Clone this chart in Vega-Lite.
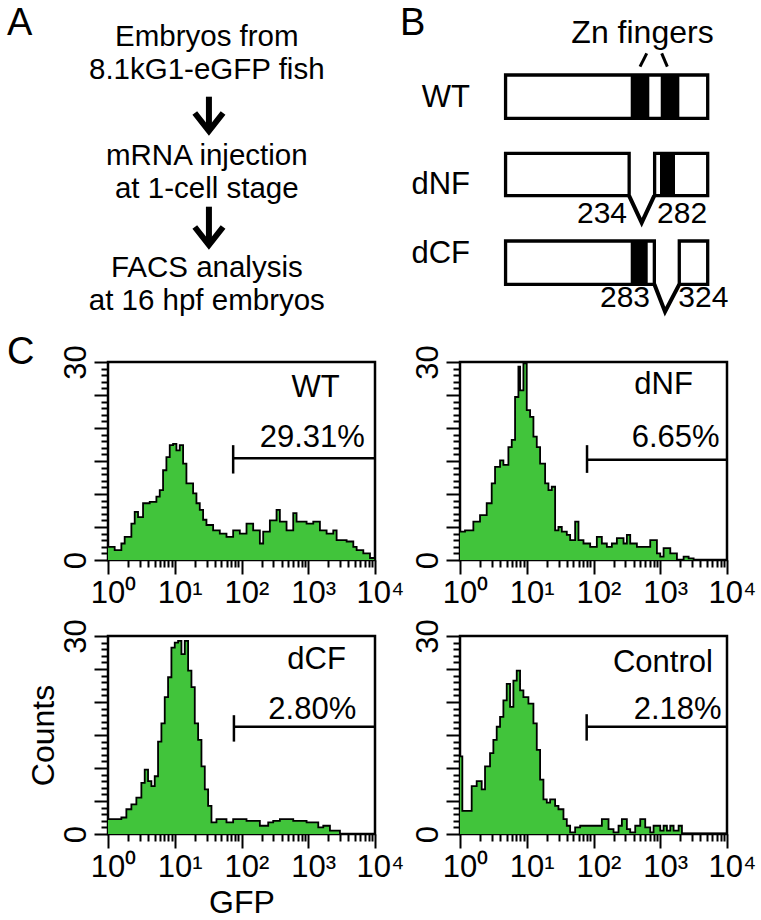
{
  "$schema": "https://vega.github.io/schema/vega-lite/v6.json",
  "padding": {"left": 7, "top": 0, "right": 0, "bottom": 0},
  "background": "white",
  "bounds": "flush",
  "columns": 2,
  "spacing": {"row": 76, "column": 85},
  "datasets": {
    "aletters": [{"t": "A", "x": -7.48, "y": 3.5}, {"t": "C", "x": -7.48, "y": 36.4}],
    "atext": [
      {"t": "Embryos from", "x": 0, "y": 4.6},
      {"t": "8.1kG1-eGFP fish", "x": 0, "y": 7.9},
      {"t": "mRNA injection", "x": 0, "y": 16.45},
      {"t": "at 1-cell stage", "x": 0, "y": 19.75},
      {"t": "FACS analysis", "x": 0, "y": 27.65},
      {"t": "at 16 hpf embryos", "x": 0, "y": 30.95}
    ],
    "ashaft": [{"x": 0.08, "y": 9.67, "y2": 13.0}, {"x": 0.08, "y": 20.67, "y2": 24.4}],
    "ahead": [
      {"id": 1, "x": -0.45, "y": 11.3}, {"id": 1, "x": 0.08, "y": 13.1}, {"id": 1, "x": 0.61, "y": 11.3},
      {"id": 2, "x": -0.45, "y": 22.7}, {"id": 2, "x": 0.08, "y": 24.5}, {"id": 2, "x": 0.61, "y": 22.7}
    ],
    "bletter": [{"t": "B", "x": -194.9, "y": 3.5}],
    "btitle": [{"t": "Zn fingers", "x": 257.4, "y": 4.25}],
    "brows": [{"t": "WT", "x": -64.3, "y": 10.67}, {"t": "dNF", "x": -64.3, "y": 19.43}, {"t": "dCF", "x": -64.3, "y": 26.33}],
    "bnumr": [{"t": "234", "x": 228.5, "y": 22.3}, {"t": "283", "x": 271.4, "y": 30.67}],
    "bnuml": [{"t": "282", "x": 284.5, "y": 22.3}, {"t": "324", "x": 324.2, "y": 30.67}],
    "bboxes": [
      {"x": 2, "x2": 379, "y": 7.5, "y2": 11.83},
      {"x": 2, "x2": 232.5, "y": 15.33, "y2": 19.57},
      {"x": 280, "x2": 379, "y": 15.33, "y2": 19.57},
      {"x": 2, "x2": 279.5, "y": 24.1, "y2": 28.43},
      {"x": 326, "x2": 379, "y": 24.1, "y2": 28.43}
    ],
    "bbands": [
      {"x": 235.4, "x2": 270.1, "y": 7.5, "y2": 11.83},
      {"x": 291.4, "x2": 326.1, "y": 7.5, "y2": 11.83},
      {"x": 290, "x2": 318, "y": 15.33, "y2": 19.57},
      {"x": 235.4, "x2": 267.1, "y": 24.1, "y2": 28.43}
    ],
    "bzn": [{"x": 252.8, "y": 6.67, "x2": 265.3, "y2": 5.33}, {"x": 293.2, "y": 5.33, "x2": 303.7, "y2": 6.67}],
    "bnotch": [
      {"id": "dNF", "x": 232.3, "y": 19.57}, {"id": "dNF", "x": 255.9, "y": 22.27}, {"id": "dNF", "x": 279.4, "y": 19.57},
      {"id": "dCF", "x": 279.5, "y": 28.43}, {"id": "dCF", "x": 299.4, "y": 31.17}, {"id": "dCF", "x": 326, "y": 28.43}
    ],
    "hist": [
      {"s":"WT","g":1,"c":2.0},{"s":"WT","g":1.259,"c":1.5},{"s":"WT","g":1.585,"c":2.5},{"s":"WT","g":1.778,"c":3.5},{"s":"WT","g":2.239,"c":5.5},{"s":"WT","g":2.512,"c":7.3},{"s":"WT","g":2.818,"c":6.5},{"s":"WT","g":3.35,"c":8.6},{"s":"WT","g":4.217,"c":8.8},{"s":"WT","g":5.309,"c":9.6},{"s":"WT","g":5.957,"c":10.6},{"s":"WT","g":6.683,"c":13.6},{"s":"WT","g":7.499,"c":15.6},{"s":"WT","g":8.414,"c":17.4},{"s":"WT","g":9.441,"c":17.6},{"s":"WT","g":10.59,"c":16.6},{"s":"WT","g":11.89,"c":17.4},{"s":"WT","g":13.34,"c":14.6},{"s":"WT","g":14.96,"c":11.6},{"s":"WT","g":18.84,"c":10.1},{"s":"WT","g":21.13,"c":8.6},{"s":"WT","g":23.71,"c":7.6},{"s":"WT","g":26.61,"c":6.1},{"s":"WT","g":29.85,"c":5.3},{"s":"WT","g":37.58,"c":4.5},{"s":"WT","g":47.32,"c":4.0},{"s":"WT","g":59.57,"c":3.5},{"s":"WT","g":74.99,"c":4.5},{"s":"WT","g":94.41,"c":4.0},{"s":"WT","g":118.9,"c":5.5},{"s":"WT","g":149.6,"c":4.5},{"s":"WT","g":188.4,"c":2.5},{"s":"WT","g":211.3,"c":4.3},{"s":"WT","g":266.1,"c":6.0},{"s":"WT","g":335.0,"c":7.6},{"s":"WT","g":375.8,"c":5.8},{"s":"WT","g":473.2,"c":4.5},{"s":"WT","g":595.7,"c":7.1},{"s":"WT","g":668.3,"c":5.8},{"s":"WT","g":944.1,"c":5.5},{"s":"WT","g":1189,"c":5.8},{"s":"WT","g":1496,"c":4.5},{"s":"WT","g":1884,"c":4.0},{"s":"WT","g":2371,"c":4.5},{"s":"WT","g":2661,"c":3.0},{"s":"WT","g":3758,"c":2.8},{"s":"WT","g":4732,"c":2.0},{"s":"WT","g":5309,"c":1.5},{"s":"WT","g":6683,"c":1.0},{"s":"WT","g":8414,"c":0.3},{"s":"WT","g":10000,"c":0},
      {"s":"dNF","g":1,"c":4.3},{"s":"dNF","g":1.189,"c":4.5},{"s":"dNF","g":1.585,"c":5.8},{"s":"dNF","g":1.995,"c":6.8},{"s":"dNF","g":2.512,"c":8.6},{"s":"dNF","g":2.985,"c":11.6},{"s":"dNF","g":3.35,"c":14.1},{"s":"dNF","g":3.981,"c":15.1},{"s":"dNF","g":4.467,"c":14.4},{"s":"dNF","g":5.309,"c":17.1},{"s":"dNF","g":5.957,"c":18.2},{"s":"dNF","g":6.683,"c":24.7},{"s":"dNF","g":7.499,"c":29.3},{"s":"dNF","g":7.943,"c":25.7},{"s":"dNF","g":8.913,"c":29.8},{"s":"dNF","g":10,"c":22.7},{"s":"dNF","g":11.22,"c":21.7},{"s":"dNF","g":12.59,"c":18.7},{"s":"dNF","g":14.13,"c":17.1},{"s":"dNF","g":15.85,"c":14.6},{"s":"dNF","g":18.84,"c":11.6},{"s":"dNF","g":21.13,"c":10.6},{"s":"dNF","g":23.71,"c":11.1},{"s":"dNF","g":26.61,"c":4.5},{"s":"dNF","g":29.85,"c":5.0},{"s":"dNF","g":33.5,"c":4.3},{"s":"dNF","g":39.81,"c":3.8},{"s":"dNF","g":44.67,"c":3.0},{"s":"dNF","g":53.09,"c":5.8},{"s":"dNF","g":59.57,"c":3.0},{"s":"dNF","g":70.79,"c":2.5},{"s":"dNF","g":89.13,"c":2.0},{"s":"dNF","g":112.2,"c":3.5},{"s":"dNF","g":133.4,"c":2.5},{"s":"dNF","g":158.5,"c":2.0},{"s":"dNF","g":188.4,"c":2.5},{"s":"dNF","g":223.9,"c":3.3},{"s":"dNF","g":281.8,"c":2.5},{"s":"dNF","g":316.2,"c":3.8},{"s":"dNF","g":354.8,"c":2.5},{"s":"dNF","g":446.7,"c":2.0},{"s":"dNF","g":707.9,"c":3.0},{"s":"dNF","g":891.3,"c":1.0},{"s":"dNF","g":1000,"c":0.5},{"s":"dNF","g":1122,"c":1.8},{"s":"dNF","g":1413,"c":1.0},{"s":"dNF","g":1778,"c":0},{"s":"dNF","g":2239,"c":0.5},{"s":"dNF","g":2661,"c":0.25},{"s":"dNF","g":3162,"c":0},{"s":"dNF","g":10000,"c":0},
      {"s":"dCF","g":1,"c":2.25},{"s":"dCF","g":1.585,"c":2.5},{"s":"dCF","g":1.884,"c":3.75},{"s":"dCF","g":2.239,"c":4.5},{"s":"dCF","g":2.661,"c":5.5},{"s":"dCF","g":3.162,"c":7.75},{"s":"dCF","g":3.548,"c":9.75},{"s":"dCF","g":3.981,"c":8},{"s":"dCF","g":4.467,"c":7.25},{"s":"dCF","g":5.012,"c":8.75},{"s":"dCF","g":5.623,"c":14},{"s":"dCF","g":6.31,"c":16.75},{"s":"dCF","g":7.079,"c":20.75},{"s":"dCF","g":7.943,"c":23.75},{"s":"dCF","g":8.913,"c":28.25},{"s":"dCF","g":10,"c":29},{"s":"dCF","g":11.22,"c":29.25},{"s":"dCF","g":12.59,"c":27.25},{"s":"dCF","g":14.13,"c":29.25},{"s":"dCF","g":15.85,"c":24.75},{"s":"dCF","g":17.78,"c":22.25},{"s":"dCF","g":19.95,"c":16.75},{"s":"dCF","g":22.39,"c":14.25},{"s":"dCF","g":25.12,"c":10.25},{"s":"dCF","g":28.18,"c":6.75},{"s":"dCF","g":31.62,"c":4.25},{"s":"dCF","g":35.48,"c":1.75},{"s":"dCF","g":42.17,"c":2.25},{"s":"dCF","g":59.57,"c":1.75},{"s":"dCF","g":74.99,"c":2.25},{"s":"dCF","g":118.9,"c":2.0},{"s":"dCF","g":188.4,"c":1.25},{"s":"dCF","g":251.2,"c":1.75},{"s":"dCF","g":298.5,"c":2.0},{"s":"dCF","g":375.8,"c":2.25},{"s":"dCF","g":595.7,"c":2.0},{"s":"dCF","g":944.1,"c":1.75},{"s":"dCF","g":1413,"c":1.0},{"s":"dCF","g":1679,"c":1.25},{"s":"dCF","g":2113,"c":0.5},{"s":"dCF","g":2985,"c":0},{"s":"dCF","g":10000,"c":0},
      {"s":"Control","g":1,"c":11.75},{"s":"Control","g":1.084,"c":3.5},{"s":"Control","g":1.496,"c":7.25},{"s":"Control","g":1.778,"c":8},{"s":"Control","g":2.113,"c":6.75},{"s":"Control","g":2.371,"c":10.25},{"s":"Control","g":2.818,"c":12.25},{"s":"Control","g":3.162,"c":14.25},{"s":"Control","g":3.548,"c":16.25},{"s":"Control","g":3.981,"c":17.75},{"s":"Control","g":4.467,"c":20.25},{"s":"Control","g":5.012,"c":22.75},{"s":"Control","g":5.623,"c":19.25},{"s":"Control","g":6.31,"c":23.25},{"s":"Control","g":7.079,"c":24.75},{"s":"Control","g":7.943,"c":21.75},{"s":"Control","g":8.913,"c":20.75},{"s":"Control","g":10.59,"c":19.75},{"s":"Control","g":12.59,"c":16.75},{"s":"Control","g":14.13,"c":12.75},{"s":"Control","g":15.85,"c":8.25},{"s":"Control","g":17.78,"c":5.25},{"s":"Control","g":19.95,"c":4.75},{"s":"Control","g":22.39,"c":5.25},{"s":"Control","g":26.61,"c":4.25},{"s":"Control","g":29.85,"c":3.75},{"s":"Control","g":35.48,"c":2.25},{"s":"Control","g":39.81,"c":1.25},{"s":"Control","g":44.67,"c":0.25},{"s":"Control","g":53.09,"c":1.0},{"s":"Control","g":63.1,"c":1.25},{"s":"Control","g":133.4,"c":2.25},{"s":"Control","g":167.9,"c":0.75},{"s":"Control","g":199.5,"c":0.25},{"s":"Control","g":237.1,"c":1.25},{"s":"Control","g":266.1,"c":2.25},{"s":"Control","g":316.2,"c":0.75},{"s":"Control","g":354.8,"c":0.25},{"s":"Control","g":421.7,"c":1.25},{"s":"Control","g":501.2,"c":2.25},{"s":"Control","g":595.7,"c":1.0},{"s":"Control","g":707.9,"c":0.25},{"s":"Control","g":794.3,"c":1.25},{"s":"Control","g":1000,"c":0.5},{"s":"Control","g":1122,"c":1.25},{"s":"Control","g":1259,"c":0.5},{"s":"Control","g":1413,"c":1.25},{"s":"Control","g":1585,"c":0.5},{"s":"Control","g":1884,"c":1.25},{"s":"Control","g":2113,"c":0.1},{"s":"Control","g":10000,"c":0.1}
    ],
    "gateh": [
      {"s":"WT","g":75,"g2":10000,"c":15.4},{"s":"dNF","g":80,"g2":10000,"c":15.2},{"s":"dCF","g":77,"g2":10000,"c":16.25},{"s":"Control","g":79,"g2":10000,"c":16.25}
    ],
    "gatev": [
      {"s":"WT","g":75,"c":13.1,"c2":17.4},{"s":"dNF","g":80,"c":13.2,"c2":17.4},{"s":"dCF","g":77,"c":14.0,"c2":18.0},{"s":"Control","g":79,"c":14.15,"c2":18.15}
    ],
    "plabels": [
      {"s":"WT","t":"WT","g":1288,"c":24.7},{"s":"WT","t":"29.31%","g":1148,"c":17.1},
      {"s":"dNF","t":"dNF","g":1122,"c":25.2},{"s":"dNF","t":"6.65%","g":1698,"c":17.1},
      {"s":"dCF","t":"dCF","g":1334,"c":25},{"s":"dCF","t":"2.80%","g":1148,"c":17.5},
      {"s":"Control","t":"Control","g":1096,"c":24.5},{"s":"Control","t":"2.18%","g":1820,"c":17.5}
    ]
  },
  "concat": [
    {
      "width": 267, "height": 286, "view": {"stroke": null},
      "encoding": {
        "x": {"field": "x", "type": "quantitative", "scale": {"domain": [-3.7, 6.3], "nice": false, "zero": false}, "axis": null},
        "y": {"field": "y", "type": "quantitative", "scale": {"domain": [28.6, 0], "nice": false, "zero": false}, "axis": null}
      },
      "layer": [
        {"data": {"name": "aletters"}, "mark": {"type": "text", "align": "left", "baseline": "alphabetic", "fontSize": 38, "color": "black"}, "encoding": {"text": {"field": "t"}}},
        {"data": {"name": "atext"}, "mark": {"type": "text", "align": "center", "baseline": "alphabetic", "fontSize": 29.5, "color": "black"}, "encoding": {"text": {"field": "t"}}},
        {"data": {"name": "ashaft"}, "mark": {"type": "rule", "color": "black", "strokeWidth": 6}, "encoding": {"y2": {"field": "y2"}}},
        {"data": {"name": "ahead"}, "mark": {"type": "line", "color": "black", "strokeWidth": 6, "strokeJoin": "miter"}, "encoding": {"detail": {"field": "id"}}}
      ]
    },
    {
      "width": 267, "height": 286, "view": {"stroke": null},
      "encoding": {
        "x": {"field": "x", "type": "quantitative", "scale": {"domain": [-83, 415], "nice": false, "zero": false}, "axis": null},
        "y": {"field": "y", "type": "quantitative", "scale": {"domain": [28.6, 0], "nice": false, "zero": false}, "axis": null}
      },
      "layer": [
        {"data": {"name": "bbands"}, "mark": {"type": "rect", "color": "black"}, "encoding": {"x2": {"field": "x2"}, "y2": {"field": "y2"}}},
        {"data": {"name": "bboxes"}, "mark": {"type": "rect", "filled": false, "stroke": "black", "strokeWidth": 3.3}, "encoding": {"x2": {"field": "x2"}, "y2": {"field": "y2"}}},
        {"data": {"name": "bzn"}, "mark": {"type": "rule", "color": "black", "strokeWidth": 3}, "encoding": {"x2": {"field": "x2"}, "y2": {"field": "y2"}}},
        {"data": {"name": "bnotch"}, "mark": {"type": "line", "color": "black", "strokeWidth": 4, "strokeJoin": "miter"}, "encoding": {"detail": {"field": "id"}}},
        {"data": {"name": "bletter"}, "mark": {"type": "text", "align": "left", "baseline": "alphabetic", "fontSize": 38, "color": "black"}, "encoding": {"text": {"field": "t"}}},
        {"data": {"name": "btitle"}, "mark": {"type": "text", "align": "center", "baseline": "alphabetic", "fontSize": 32, "color": "black"}, "encoding": {"text": {"field": "t"}}},
        {"data": {"name": "brows"}, "mark": {"type": "text", "align": "right", "baseline": "alphabetic", "fontSize": 31, "color": "black"}, "encoding": {"text": {"field": "t"}}},
        {"data": {"name": "bnumr"}, "mark": {"type": "text", "align": "right", "baseline": "alphabetic", "fontSize": 30, "color": "black"}, "encoding": {"text": {"field": "t"}}},
        {"data": {"name": "bnuml"}, "mark": {"type": "text", "align": "left", "baseline": "alphabetic", "fontSize": 30, "color": "black"}, "encoding": {"text": {"field": "t"}}}
      ]
    },
    {
      "width": 267, "height": 198,
      "encoding": {
        "x": {"field": "g", "type": "quantitative", "scale": {"type": "log", "domain": [1, 10000], "nice": false},
          "axis": {"title": null, "values": [1,2,3,4,5,6,7,8,9,10,20,30,40,50,60,70,80,90,100,200,300,400,500,600,700,800,900,1000,2000,3000,4000,5000,6000,7000,8000,9000,10000],
            "labelExpr": "datum.value == 1 ? '10\u2070' : datum.value == 10 ? '10\u00b9' : datum.value == 100 ? '10\u00b2' : datum.value == 1000 ? '10\u00b3' : datum.value == 10000 ? '10\u2074' : ''",
            "tickSize": {"condition": {"test": "datum.value == 1 || datum.value == 10 || datum.value == 100 || datum.value == 1000 || datum.value == 10000", "value": 14}, "value": 7},
            "labelPadding": 4, "labelOffset": 5}},
        "y": {"field": "c", "type": "quantitative", "scale": {"domain": [0, 30], "nice": false},
          "axis": {"title": null, "values": [0,1,2,3,4,5,6,7,8,9,10,11,12,13,14,15,16,17,18,19,20,21,22,23,24,25,26,27,28,29,30],
            "labelExpr": "datum.value == 0 || datum.value == 30 ? datum.label : ''",
            "tickSize": {"condition": {"test": "datum.value % 5 == 0", "value": 14}, "value": 7},
            "labelAngle": -90, "labelPadding": 2}}
      },
      "layer": [
        {"data": {"name": "hist"}, "transform": [{"filter": "datum.s == 'WT'"}], "mark": {"type": "area", "interpolate": "step-after", "color": "#41c43b"}, "encoding": {}},
        {"data": {"name": "hist"}, "transform": [{"filter": "datum.s == 'WT'"}], "mark": {"type": "line", "interpolate": "step-after", "color": "black", "strokeWidth": 1.8}, "encoding": {}},
        {"data": {"name": "gateh"}, "transform": [{"filter": "datum.s == 'WT'"}], "mark": {"type": "rule", "color": "black", "strokeWidth": 2.5}, "encoding": {"x2": {"field": "g2"}}},
        {"data": {"name": "gatev"}, "transform": [{"filter": "datum.s == 'WT'"}], "mark": {"type": "rule", "color": "black", "strokeWidth": 2.5}, "encoding": {"y2": {"field": "c2"}}},
        {"data": {"name": "plabels"}, "transform": [{"filter": "datum.s == 'WT'"}], "mark": {"type": "text", "fontSize": 31, "color": "black", "align": "center", "baseline": "alphabetic"}, "encoding": {"text": {"field": "t"}}}
      ]
    },
    {
      "width": 267, "height": 198,
      "encoding": {
        "x": {"field": "g", "type": "quantitative", "scale": {"type": "log", "domain": [1, 10000], "nice": false},
          "axis": {"title": null, "values": [1,2,3,4,5,6,7,8,9,10,20,30,40,50,60,70,80,90,100,200,300,400,500,600,700,800,900,1000,2000,3000,4000,5000,6000,7000,8000,9000,10000],
            "labelExpr": "datum.value == 1 ? '10\u2070' : datum.value == 10 ? '10\u00b9' : datum.value == 100 ? '10\u00b2' : datum.value == 1000 ? '10\u00b3' : datum.value == 10000 ? '10\u2074' : ''",
            "tickSize": {"condition": {"test": "datum.value == 1 || datum.value == 10 || datum.value == 100 || datum.value == 1000 || datum.value == 10000", "value": 14}, "value": 7},
            "labelPadding": 4, "labelOffset": 5}},
        "y": {"field": "c", "type": "quantitative", "scale": {"domain": [0, 30], "nice": false},
          "axis": {"title": null, "values": [0,1,2,3,4,5,6,7,8,9,10,11,12,13,14,15,16,17,18,19,20,21,22,23,24,25,26,27,28,29,30],
            "labelExpr": "datum.value == 0 || datum.value == 30 ? datum.label : ''",
            "tickSize": {"condition": {"test": "datum.value % 5 == 0", "value": 14}, "value": 7},
            "labelAngle": -90, "labelPadding": 2}}
      },
      "layer": [
        {"data": {"name": "hist"}, "transform": [{"filter": "datum.s == 'dNF'"}], "mark": {"type": "area", "interpolate": "step-after", "color": "#41c43b"}, "encoding": {}},
        {"data": {"name": "hist"}, "transform": [{"filter": "datum.s == 'dNF'"}], "mark": {"type": "line", "interpolate": "step-after", "color": "black", "strokeWidth": 1.8}, "encoding": {}},
        {"data": {"name": "gateh"}, "transform": [{"filter": "datum.s == 'dNF'"}], "mark": {"type": "rule", "color": "black", "strokeWidth": 2.5}, "encoding": {"x2": {"field": "g2"}}},
        {"data": {"name": "gatev"}, "transform": [{"filter": "datum.s == 'dNF'"}], "mark": {"type": "rule", "color": "black", "strokeWidth": 2.5}, "encoding": {"y2": {"field": "c2"}}},
        {"data": {"name": "plabels"}, "transform": [{"filter": "datum.s == 'dNF'"}], "mark": {"type": "text", "fontSize": 31, "color": "black", "align": "center", "baseline": "alphabetic"}, "encoding": {"text": {"field": "t"}}}
      ]
    },
    {
      "width": 267, "height": 198,
      "encoding": {
        "x": {"field": "g", "type": "quantitative", "scale": {"type": "log", "domain": [1, 10000], "nice": false},
          "axis": {"title": "GFP", "titlePadding": 5, "values": [1,2,3,4,5,6,7,8,9,10,20,30,40,50,60,70,80,90,100,200,300,400,500,600,700,800,900,1000,2000,3000,4000,5000,6000,7000,8000,9000,10000],
            "labelExpr": "datum.value == 1 ? '10\u2070' : datum.value == 10 ? '10\u00b9' : datum.value == 100 ? '10\u00b2' : datum.value == 1000 ? '10\u00b3' : datum.value == 10000 ? '10\u2074' : ''",
            "tickSize": {"condition": {"test": "datum.value == 1 || datum.value == 10 || datum.value == 100 || datum.value == 1000 || datum.value == 10000", "value": 14}, "value": 7},
            "labelPadding": 4, "labelOffset": 5}},
        "y": {"field": "c", "type": "quantitative", "scale": {"domain": [0, 30], "nice": false},
          "axis": {"title": "Counts", "titlePadding": 0, "values": [0,1,2,3,4,5,6,7,8,9,10,11,12,13,14,15,16,17,18,19,20,21,22,23,24,25,26,27,28,29,30],
            "labelExpr": "datum.value == 0 || datum.value == 30 ? datum.label : ''",
            "tickSize": {"condition": {"test": "datum.value % 5 == 0", "value": 14}, "value": 7},
            "labelAngle": -90, "labelPadding": 2}}
      },
      "layer": [
        {"data": {"name": "hist"}, "transform": [{"filter": "datum.s == 'dCF'"}], "mark": {"type": "area", "interpolate": "step-after", "color": "#41c43b"}, "encoding": {}},
        {"data": {"name": "hist"}, "transform": [{"filter": "datum.s == 'dCF'"}], "mark": {"type": "line", "interpolate": "step-after", "color": "black", "strokeWidth": 1.8}, "encoding": {}},
        {"data": {"name": "gateh"}, "transform": [{"filter": "datum.s == 'dCF'"}], "mark": {"type": "rule", "color": "black", "strokeWidth": 2.5}, "encoding": {"x2": {"field": "g2"}}},
        {"data": {"name": "gatev"}, "transform": [{"filter": "datum.s == 'dCF'"}], "mark": {"type": "rule", "color": "black", "strokeWidth": 2.5}, "encoding": {"y2": {"field": "c2"}}},
        {"data": {"name": "plabels"}, "transform": [{"filter": "datum.s == 'dCF'"}], "mark": {"type": "text", "fontSize": 31, "color": "black", "align": "center", "baseline": "alphabetic"}, "encoding": {"text": {"field": "t"}}}
      ]
    },
    {
      "width": 267, "height": 198,
      "encoding": {
        "x": {"field": "g", "type": "quantitative", "scale": {"type": "log", "domain": [1, 10000], "nice": false},
          "axis": {"title": null, "values": [1,2,3,4,5,6,7,8,9,10,20,30,40,50,60,70,80,90,100,200,300,400,500,600,700,800,900,1000,2000,3000,4000,5000,6000,7000,8000,9000,10000],
            "labelExpr": "datum.value == 1 ? '10\u2070' : datum.value == 10 ? '10\u00b9' : datum.value == 100 ? '10\u00b2' : datum.value == 1000 ? '10\u00b3' : datum.value == 10000 ? '10\u2074' : ''",
            "tickSize": {"condition": {"test": "datum.value == 1 || datum.value == 10 || datum.value == 100 || datum.value == 1000 || datum.value == 10000", "value": 14}, "value": 7},
            "labelPadding": 4, "labelOffset": 5}},
        "y": {"field": "c", "type": "quantitative", "scale": {"domain": [0, 30], "nice": false},
          "axis": {"title": null, "values": [0,1,2,3,4,5,6,7,8,9,10,11,12,13,14,15,16,17,18,19,20,21,22,23,24,25,26,27,28,29,30],
            "labelExpr": "datum.value == 0 || datum.value == 30 ? datum.label : ''",
            "tickSize": {"condition": {"test": "datum.value % 5 == 0", "value": 14}, "value": 7},
            "labelAngle": -90, "labelPadding": 2}}
      },
      "layer": [
        {"data": {"name": "hist"}, "transform": [{"filter": "datum.s == 'Control'"}], "mark": {"type": "area", "interpolate": "step-after", "color": "#41c43b"}, "encoding": {}},
        {"data": {"name": "hist"}, "transform": [{"filter": "datum.s == 'Control'"}], "mark": {"type": "line", "interpolate": "step-after", "color": "black", "strokeWidth": 1.8}, "encoding": {}},
        {"data": {"name": "gateh"}, "transform": [{"filter": "datum.s == 'Control'"}], "mark": {"type": "rule", "color": "black", "strokeWidth": 2.5}, "encoding": {"x2": {"field": "g2"}}},
        {"data": {"name": "gatev"}, "transform": [{"filter": "datum.s == 'Control'"}], "mark": {"type": "rule", "color": "black", "strokeWidth": 2.5}, "encoding": {"y2": {"field": "c2"}}},
        {"data": {"name": "plabels"}, "transform": [{"filter": "datum.s == 'Control'"}], "mark": {"type": "text", "fontSize": 31, "color": "black", "align": "center", "baseline": "alphabetic"}, "encoding": {"text": {"field": "t"}}}
      ]
    }
  ],
  "config": {
    "font": "Liberation Sans",
    "view": {"stroke": "black", "strokeWidth": 2.5},
    "axis": {
      "domain": false, "grid": false, "labelFontSize": 31, "labelColor": "black", "tickColor": "black", "tickWidth": 2,
      "titleFontSize": 32, "titleFontWeight": "normal", "titleColor": "black",
      "labelOverlap": false, "labelFlush": false, "labelBound": false
    }
  }
}
